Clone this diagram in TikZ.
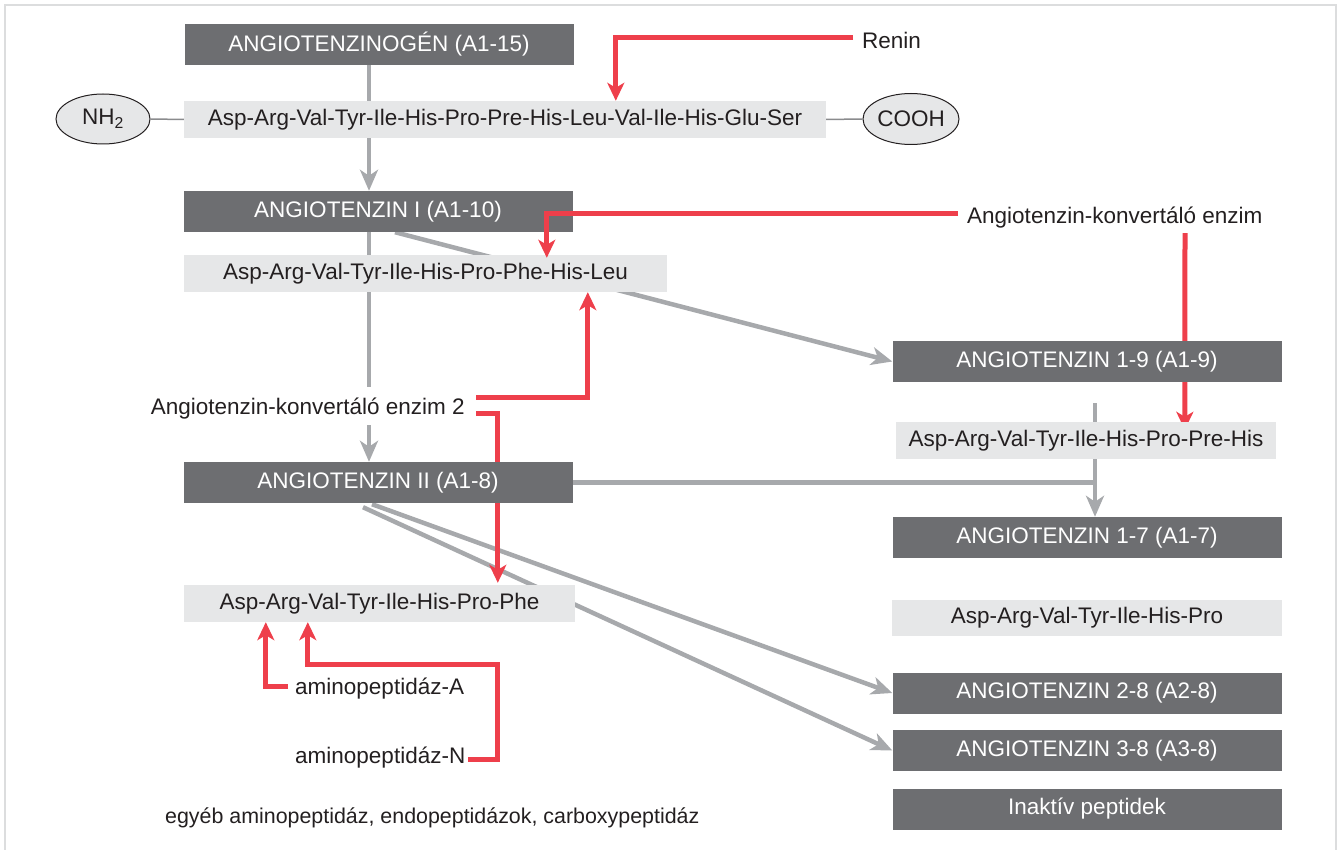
\documentclass[tikz,border=0pt]{standalone}
\usepackage{fontspec}
\setmainfont{Liberation Sans}
\usepackage{tikz}
\usetikzlibrary{arrows.meta}
\usetikzlibrary{calc}
\usetikzlibrary{shapes.geometric}
\definecolor{boxdark}{HTML}{6D6E71}
\definecolor{boxlight}{HTML}{E6E7E8}
\definecolor{enzred}{HTML}{EE3F4B}
\definecolor{flowgray}{HTML}{A7A9AC}
\definecolor{inkblack}{HTML}{231F20}
\definecolor{framegray}{HTML}{DCDDDE}
\pgfdeclarelayer{bg}
\pgfsetlayers{bg,main}
\newcommand{\labelfont}{\fontsize{22.5}{27}\selectfont}
\tikzset{
    darkbox/.style={fill=boxdark, text=white, inner sep=0, minimum height=41pt, minimum width=389pt, font=\labelfont},
    lightbox/.style={fill=boxlight, text=inkblack, inner sep=0, minimum height=37pt, font=\labelfont},
    enzlabel/.style={text=inkblack, inner sep=0, text height=16pt, text depth=5pt, font=\labelfont},
    endcap/.style={ellipse, draw=inkblack, fill=boxlight, line width=1pt, inner sep=0, text=inkblack, font=\labelfont},
    redline/.style={enzred, line width=5pt},
    grayline/.style={flowgray, line width=4.5pt},
    thinline/.style={draw=boxdark!80, line width=1.5pt}
}
\newcommand{\redarrow}{\draw[redline, -{Stealth[length=18pt, width=17pt, inset=5pt]}]}
\newcommand{\grayarrow}{\draw[grayline, -{Stealth[length=21pt, width=18pt, inset=6pt]}]}

\begin{document}
\begin{tikzpicture}[x=1pt, y=-1pt]
    \useasboundingbox (0,0) rectangle (1338,850);
    \draw[framegray, line width=2pt] (5,851) -- (5,5) -- (1336,5) -- (1336,851);

    % Left column
    \node[darkbox] (agen) at (379,44.5) {ANGIOTENZINOGÉN (A1-15)};
    \node[lightbox, minimum width=642pt] (pep15) at (505,119.5) {Asp-Arg-Val-Tyr-Ile-His-Pro-Pre-His-Leu-Val-Ile-His-Glu-Ser};
    \node[endcap, minimum width=94pt, minimum height=50pt] (nh2) at (103,119) {NH\textsubscript{2}};
    \node[endcap, minimum width=96pt, minimum height=51pt] (cooh) at (911,119) {COOH};
    \node[darkbox] (ang1) at (378,211.5) {ANGIOTENZIN I (A1-10)};
    \node[lightbox, minimum width=483pt] (pep10) at (425.5,273.5) {Asp-Arg-Val-Tyr-Ile-His-Pro-Phe-His-Leu};
    \node[darkbox] (ang2) at (378,482.5) {ANGIOTENZIN II (A1-8)};
    \node[lightbox, minimum width=391pt] (pep8) at (379.5,603.5) {Asp-Arg-Val-Tyr-Ile-His-Pro-Phe};

    % Right column
    \node[darkbox] (ang19) at (1087,361.5) {ANGIOTENZIN 1-9 (A1-9)};
    \node[lightbox, minimum width=380pt] (pep9) at (1086,440.5) {Asp-Arg-Val-Tyr-Ile-His-Pro-Pre-His};
    \node[darkbox] (ang17) at (1087,537.5) {ANGIOTENZIN 1-7 (A1-7)};
    \node[lightbox, minimum width=390pt, minimum height=36pt] (pep7) at (1087,618) {Asp-Arg-Val-Tyr-Ile-His-Pro};
    \node[darkbox] (ang28) at (1087,693) {ANGIOTENZIN 2-8 (A2-8)};
    \node[darkbox] (ang38) at (1087,750.5) {ANGIOTENZIN 3-8 (A3-8)};
    \node[darkbox] (inakt) at (1087,809) {Inaktív peptidek};

    % Enzymes
    \node[enzlabel, anchor=base west] (renin) at (862,49) {Renin};
    \node[enzlabel, anchor=base west] (ace) at (967,224) {Angiotenzin-konvertáló enzim};
    \node[enzlabel, anchor=base east] (ace2) at (465,414) {Angiotenzin-konvertáló enzim 2};
    \node[enzlabel, anchor=base west] (apa) at (295,694) {aminopeptidáz-A};
    \node[enzlabel, anchor=base west] (apn) at (295,763) {aminopeptidáz-N};
    \node[enzlabel, anchor=base west, font=\fontsize{21.4}{26}\selectfont] (other) at (165,823) {egyéb aminopeptidáz, endopeptidázok, carboxypeptidáz};

    \coordinate (spine) at (369,0);
    \coordinate (col) at (1095,0);

    % Draw conversions
    \begin{pgfonlayer}{bg}
        \draw[grayline] (agen.south -| spine) -- (pep15.north -| spine);
        \grayarrow (pep15.south -| spine) -- (ang1.north -| spine);
        \draw[grayline] (ang1.south -| spine) -- ($(ace2.north -| spine)+(0,-11)$);
        \grayarrow ($(ace2.south -| spine)+(0,6)$) -- (ang2.north -| spine);
        \grayarrow ($(ang1.south)+(17,0)$) -- (ang19.west);
        \grayarrow ($(ang19.south -| col)+(0,21)$) -- (ang17.north -| col);
        \draw[grayline] (ang2.east) -- ($(ang2.east -| col)+(2,0)$);
        \grayarrow ($(ang2.south)+(-6,1)$) -- (ang28.west);
        \grayarrow ($(ang2.south)+(-15,4)$) -- (ang38.west);
        \redarrow ($(ace.south west)+(218,4)$) -- ($(pep9.north west)+(289,8)$);
        \redarrow ($(ace2.east)+(11,4.5)$) -| ($(pep8.north west)+(314,-2)$);
    \end{pgfonlayer}
    \draw[thinline] (nh2.east) -- (pep15.west);
    \draw[thinline] (pep15.east) -- (cooh.west);

    % Draw enzyme arrows
    \redarrow ($(renin.west)+(-9,-5.5)$) -| ($(pep15.north west)+(432,0)$);
    \redarrow ($(ace.west)+(-9,-4.5)$) -| ($(pep10.north west)+(363,3)$);
    \redarrow ($(ace2.east)+(11,-11.5)$) -| ($(pep10.south west)+(404,0)$);
    \redarrow ($(apa.west)+(-7,-2.5)$) -| ($(pep8.south west)+(82,0)$);
    \redarrow ($(apn.east)+(3,1.5)$) -| ($(pep8.south west)+(314,42)$) -| ($(pep8.south west)+(124,0)$);
\end{tikzpicture}
\end{document}
